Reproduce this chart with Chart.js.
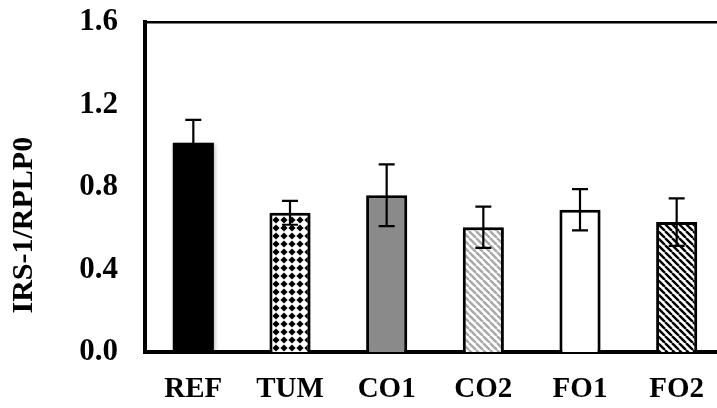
<!DOCTYPE html>
<html>
<head>
<meta charset="utf-8">
<script src="https://cdn.jsdelivr.net/npm/chart.js@4.4.1/dist/chart.umd.min.js"></script>
<style>
  html, body { margin: 0; padding: 0; background: #fff; overflow: hidden; }
  #wrap { position: relative; width: 725px; height: 408px; }
</style>
</head>
<body>
<div id="wrap"><canvas id="c"></canvas></div>
<script>
// ---- data ----
const categories = ['REF', 'TUM', 'CO1', 'CO2', 'FO1', 'FO2'];
const means = [1.015, 0.675, 0.76, 0.605, 0.69, 0.63];
const errors = [0.11, 0.058, 0.15, 0.10, 0.10, 0.115];
const yTicks = [0.0, 0.4, 0.8, 1.2, 1.6];
const yTitle = 'IRS-1/RPLP0';

const FONT = "'Liberation Serif', 'Times New Roman', serif";

// ---- fill patterns ----
function stripePattern(color, size, lw) {
  const cv = document.createElement('canvas');
  cv.width = size; cv.height = size;
  const g = cv.getContext('2d');
  g.fillStyle = '#fff'; g.fillRect(0, 0, size, size);
  g.strokeStyle = color; g.lineWidth = lw;
  g.beginPath();
  for (const o of [-size, 0, size]) {
    g.moveTo(o, 0); g.lineTo(o + size, size);
  }
  g.stroke();
  return g.createPattern(cv, 'repeat');
}
function diamondPattern(size, r) {
  const cv = document.createElement('canvas');
  cv.width = size; cv.height = size;
  const g = cv.getContext('2d');
  g.fillStyle = '#fff'; g.fillRect(0, 0, size, size);
  g.fillStyle = '#000';
  const c = size / 2;
  g.beginPath();
  g.moveTo(c, c - r); g.lineTo(c + r, c); g.lineTo(c, c + r); g.lineTo(c - r, c); g.closePath();
  g.fill();
  return g.createPattern(cv, 'repeat');
}
const fills = [
  '#000000',
  diamondPattern(8, 3.6),
  '#8a8a8a',
  stripePattern('#a8a8a8', 7, 2.4),
  '#ffffff',
  stripePattern('#000000', 7, 2.4)
];

// ---- plugins ----
const barShadow = {
  id: 'barShadow',
  beforeDatasetsDraw(chart) {
    const ctx = chart.ctx;
    ctx.save();
    ctx.shadowColor = 'rgba(0,0,0,0.28)';
    ctx.shadowBlur = 4;
    ctx.shadowOffsetX = 1;
    ctx.shadowOffsetY = 1;
  },
  afterDatasetsDraw(chart) {
    chart.ctx.restore();
  }
};
const errorBars = {
  id: 'errorBars',
  afterDatasetsDraw(chart) {
    const meta = chart.getDatasetMeta(0);
    const ys = chart.scales.y;
    const ctx = chart.ctx;
    ctx.save();
    ctx.shadowColor = 'rgba(0,0,0,0)';
    ctx.strokeStyle = '#000';
    ctx.lineWidth = 2.2;
    meta.data.forEach((el, i) => {
      const top = ys.getPixelForValue(means[i] + errors[i]);
      const bot = ys.getPixelForValue(means[i] - errors[i]);
      const half = 8;
      ctx.beginPath();
      ctx.moveTo(el.x, top); ctx.lineTo(el.x, bot);
      ctx.moveTo(el.x - half, top); ctx.lineTo(el.x + half, top);
      ctx.moveTo(el.x - half, bot); ctx.lineTo(el.x + half, bot);
      ctx.stroke();
    });
    ctx.restore();
  }
};
const sideTitle = {
  id: 'sideTitle',
  afterDraw(chart) {
    const ys = chart.scales.y;
    const ctx = chart.ctx;
    ctx.save();
    ctx.translate(24, ys.getPixelForValue(0.615));
    ctx.rotate(-Math.PI / 2);
    ctx.font = 'bold 30px ' + FONT;
    ctx.fillStyle = '#000';
    ctx.textAlign = 'center';
    ctx.textBaseline = 'middle';
    ctx.fillText(yTitle, 0, 0);
    ctx.restore();
  }
};

new Chart(document.getElementById('c'), {
  type: 'bar',
  data: {
    labels: categories,
    datasets: [{
      data: means,
      backgroundColor: fills,
      borderColor: '#000',
      borderWidth: [0, 3, 3, 3, 3, 3],
      barPercentage: 0.425,
      categoryPercentage: 1.0
    }]
  },
  options: {
    responsive: true,
    maintainAspectRatio: false,
    animation: false,
    devicePixelRatio: 1,
    layout: { padding: { left: 0, right: 0, top: 0, bottom: 0 } },
    plugins: { legend: { display: false }, tooltip: { enabled: false } },
    scales: {
      x: {
        offset: true,
        afterFit(scale) { scale.height = 56; },
        grid: { display: false, drawTicks: false },
        border: { display: true, color: '#000', width: 4 },
        ticks: {
          color: '#000',
          padding: 20,
          font: { family: FONT, size: 29, weight: 'bold' }
        }
      },
      y: {
        min: yTicks[0],
        max: yTicks[yTicks.length - 1],
        afterBuildTicks(scale) { scale.ticks = yTicks.map(v => ({ value: v })); },
        afterFit(scale) {
          scale.width = 145;
          scale.paddingTop = 22;
          scale.paddingBottom = 0;
        },
        grid: {
          drawTicks: false,
          color: (c) => (c.index === yTicks.length - 1 ? '#000' : 'rgba(0,0,0,0)'),
          lineWidth: (c) => (c.index === yTicks.length - 1 ? 2.5 : 0)
        },
        border: { display: true, color: '#000', width: 4 },
        ticks: {
          color: '#000',
          padding: 27,
          callback: (v) => Number(v).toFixed(1),
          font: { family: FONT, size: 31, weight: 'bold' }
        }
      }
    }
  },
  plugins: [barShadow, errorBars, sideTitle]
});
</script>
</body>
</html>
